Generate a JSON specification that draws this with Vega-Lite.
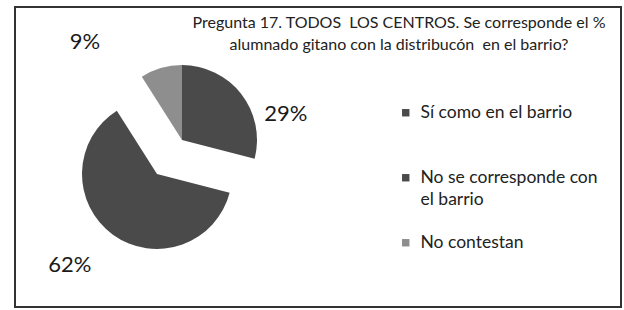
{
  "$schema": "https://vega.github.io/schema/vega-lite/v6.json",
  "autosize": "none",
  "padding": {"left": 15, "top": 7, "right": 3, "bottom": 3},
  "width": 606,
  "height": 300,
  "background": "white",
  "title": {
    "text": ["Pregunta 17. TODOS \u00a0LOS CENTROS. Se corresponde el %", "alumnado gitano con la distribucón \u00a0en el barrio?"],
    "font": "Lato",
    "fontSize": 16,
    "fontWeight": "normal",
    "color": "#222222",
    "anchor": "middle",
    "frame": "group",
    "orient": "top",
    "lineHeight": 22,
    "dx": 81,
    "offset": -47
  },
  "data": {
    "values": [
      {"cat": "Sí como en el barrio", "valor": 29, "orden": 1, "label": "29%"},
      {"cat": "No se corresponde con el barrio", "valor": 62, "orden": 2, "label": "62%"},
      {"cat": "No contestan", "valor": 9, "orden": 3, "label": "9%"}
    ]
  },
  "layer": [
    {
      "data": {"values": [{"marco": 1}]},
      "mark": {"type": "rect", "fill": "white", "fillOpacity": 0, "stroke": "#333333", "strokeWidth": 2},
      "encoding": {
        "x": {"value": 0},
        "x2": {"value": "width"},
        "y": {"value": 0},
        "y2": {"value": "height"}
      }
    },
    {
      "mark": {"type": "arc", "outerRadius": 75, "xOffset": -136, "yOffset": -17},
      "encoding": {
        "theta": {"field": "valor", "type": "quantitative", "stack": true},
        "order": {"field": "orden", "type": "quantitative"},
        "color": {
          "field": "cat",
          "type": "nominal",
          "scale": {
            "domain": ["Sí como en el barrio", "No se corresponde con el barrio", "No contestan"],
            "range": ["#4a4a4a", "#4a4a4a", "#8e8e8e"]
          },
          "legend": {
            "title": null,
            "orient": "none",
            "legendX": 382,
            "legendY": 97,
            "padding": 0,
            "symbolType": "square",
            "symbolSize": 55,
            "symbolStrokeWidth": 0,
            "labelFont": "Lato",
            "labelFontSize": 17.5,
            "labelColor": "#222222",
            "labelOffset": 6,
            "labelLimit": 300,
            "labelBaseline": "middle",
            "rowPadding": 24,
            "labelExpr": "datum.label == 'No se corresponde con el barrio' ? ['No se corresponde con', 'el barrio'] : (datum.label == 'Sí como en el barrio' ? ['Sí como en el barrio', ''] : datum.label)"
          }
        },
        "opacity": {
          "condition": {"test": "datum.cat == 'No se corresponde con el barrio'", "value": 0},
          "value": 1
        }
      }
    },
    {
      "mark": {"type": "arc", "outerRadius": 75, "xOffset": -161, "yOffset": 17},
      "encoding": {
        "theta": {"field": "valor", "type": "quantitative", "stack": true},
        "order": {"field": "orden", "type": "quantitative"},
        "color": {"field": "cat", "type": "nominal"},
        "opacity": {
          "condition": {"test": "datum.cat == 'No se corresponde con el barrio'", "value": 1},
          "value": 0
        }
      }
    },
    {
      "transform": [
        {"stack": "valor", "groupby": [], "as": ["v0", "v1"], "sort": [{"field": "orden", "order": "ascending"}]},
        {"filter": "datum.cat == 'Sí como en el barrio'"}
      ],
      "mark": {"type": "text", "radius": 107, "thetaOffset": 1.326, "xOffset": -136, "yOffset": -17, "font": "Lato", "fontSize": 22, "color": "#1a1a1a", "align": "center", "baseline": "middle"},
      "encoding": {
        "theta": {"field": "v0", "type": "quantitative", "stack": null, "scale": {"domain": [0, 100]}},
        "text": {"field": "label"}
      }
    },
    {
      "transform": [
        {"stack": "valor", "groupby": [], "as": ["v0", "v1"], "sort": [{"field": "orden", "order": "ascending"}]},
        {"filter": "datum.cat == 'No se corresponde con el barrio'"}
      ],
      "mark": {"type": "text", "radius": 168, "thetaOffset": 2.051, "xOffset": -136, "yOffset": -17, "font": "Lato", "fontSize": 22, "color": "#1a1a1a", "align": "center", "baseline": "middle"},
      "encoding": {
        "theta": {"field": "v0", "type": "quantitative", "stack": null, "scale": {"domain": [0, 100]}},
        "text": {"field": "label"}
      }
    },
    {
      "transform": [
        {"stack": "valor", "groupby": [], "as": ["v0", "v1"], "sort": [{"field": "orden", "order": "ascending"}]},
        {"filter": "datum.cat == 'No contestan'"}
      ],
      "mark": {"type": "text", "radius": 138, "thetaOffset": -0.215, "xOffset": -136, "yOffset": -17, "font": "Lato", "fontSize": 22, "color": "#1a1a1a", "align": "center", "baseline": "middle"},
      "encoding": {
        "theta": {"field": "v0", "type": "quantitative", "stack": null, "scale": {"domain": [0, 100]}},
        "text": {"field": "label"}
      }
    }
  ],
  "config": {
    "view": {"stroke": null},
    "style": {"guide-label": {"lineHeight": 22}}
  }
}
